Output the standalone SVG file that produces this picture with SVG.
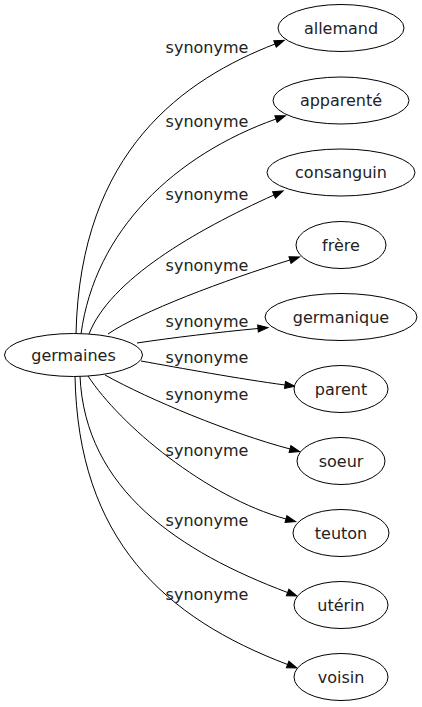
<svg xmlns="http://www.w3.org/2000/svg" width="422" height="707" viewBox="0 0 422 707">
<style>
.n ellipse{fill:#fff;stroke:#000;stroke-width:1}
.n text{font-family:"DejaVu Sans",sans-serif;font-size:16px;fill:#222;text-anchor:middle}
.e path{fill:none;stroke:#000;stroke-width:1;marker-end:url(#ah)}
.e text{font-family:"DejaVu Sans",sans-serif;font-size:16px;fill:#222;text-anchor:middle}
</style>
<defs>
<marker id="ah" markerUnits="userSpaceOnUse" markerWidth="10" markerHeight="8" refX="0" refY="3.5" orient="auto" overflow="visible">
<path d="M0,0 L10,3.5 L0,7 z" fill="#000" stroke="#000" stroke-width="1"/>
</marker>
</defs>
<rect width="422" height="707" fill="#fff"/>
<g id="edges" class="e">
<path d="M76,334 C80,150 185,79 275,44"/>
<text x="207" y="53">synonyme</text>
<path d="M81,334 C95,230 175,155 276,119"/>
<text x="207" y="127">synonyme</text>
<path d="M89,334 C110,280 194,231 274,195"/>
<text x="207" y="200">synonyme</text>
<path d="M108,334 C140,312 225,280 290,260"/>
<text x="207" y="271">synonyme</text>
<path d="M137,343 C170,338 220,332 258,328.5"/>
<text x="207" y="327">synonyme</text>
<path d="M141,361 C180,368 240,379 285,385"/>
<text x="207" y="363">synonyme</text>
<path d="M105,375 C150,400 230,433 290,449"/>
<text x="207" y="400">synonyme</text>
<path d="M88,376 C120,425 206,497 286,519"/>
<text x="207" y="456">synonyme</text>
<path d="M80,376 C85,490 180,552 287.6,592.5"/>
<text x="207" y="526">synonyme</text>
<path d="M75,376 C78,540 165,618 287.6,664.5"/>
<text x="207" y="600">synonyme</text>
</g>
<g id="germaines" class="n"><ellipse cx="73.5" cy="355" rx="69" ry="21.5"/><text x="73.5" y="360.5">germaines</text></g>
<g id="allemand" class="n"><ellipse cx="341" cy="28" rx="63" ry="23.5"/><text x="341" y="33.5">allemand</text></g>
<g id="apparente" class="n"><ellipse cx="341" cy="100.5" rx="68" ry="23.5"/><text x="341" y="106">apparenté</text></g>
<g id="consanguin" class="n"><ellipse cx="341" cy="172.5" rx="74" ry="23.5"/><text x="341" y="178">consanguin</text></g>
<g id="frere" class="n"><ellipse cx="341" cy="245" rx="45" ry="23.5"/><text x="341" y="250.5">frère</text></g>
<g id="germanique" class="n"><ellipse cx="341" cy="317" rx="76" ry="23.5"/><text x="341" y="322.5">germanique</text></g>
<g id="parent" class="n"><ellipse cx="341" cy="389" rx="47" ry="23.5"/><text x="341" y="394.5">parent</text></g>
<g id="soeur" class="n"><ellipse cx="341" cy="461" rx="44" ry="23.5"/><text x="341" y="466.5">soeur</text></g>
<g id="teuton" class="n"><ellipse cx="341" cy="533" rx="48" ry="23.5"/><text x="341" y="538.5">teuton</text></g>
<g id="uterin" class="n"><ellipse cx="341" cy="605" rx="47" ry="23.5"/><text x="341" y="610.5">utérin</text></g>
<g id="voisin" class="n"><ellipse cx="341" cy="677" rx="47" ry="23.5"/><text x="341" y="682.5">voisin</text></g>
</svg>
